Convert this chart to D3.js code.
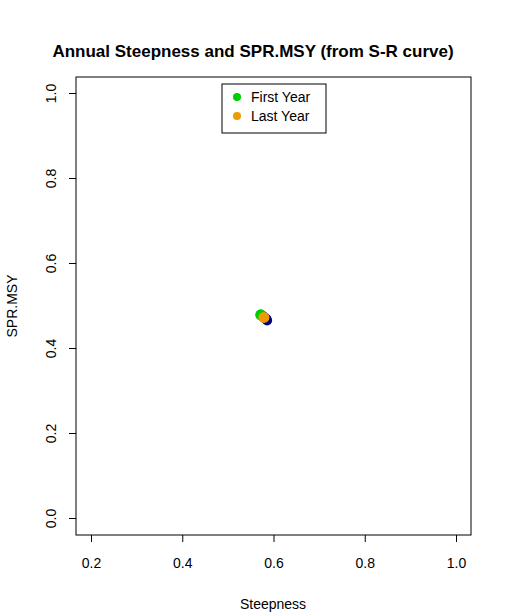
<!DOCTYPE html>
<html><head><meta charset="utf-8">
<script src="https://cdn.jsdelivr.net/npm/d3@7"></script>
<style>body{margin:0;background:#fff}text{font-family:"Liberation Sans",Arial,sans-serif}</style>
</head><body><svg id="c" width="510" height="612"></svg>
<script>
const steep = [0.572, 0.575, 0.578, 0.581, 0.584, 0.586, 0.584, 0.579];
const sprmsy = [0.478, 0.476, 0.474, 0.471, 0.468, 0.465, 0.468, 0.472];
const xTicks = [0.2, 0.4, 0.6, 0.8, 1.0];
const yTicks = [0.0, 0.2, 0.4, 0.6, 0.8, 1.0];
const legendLabels = ['First Year', 'Last Year'];
const legendColors = ['#00cd00', '#ee9a00'];

const svg = d3.select('#c');
const x = d3.scaleLinear().domain([0.2, 1.0]).range([91, 456]);
const y = d3.scaleLinear().domain([0, 1]).range([518, 93]);

svg.append('rect').attr('x', 76).attr('y', 77).attr('width', 395).attr('height', 458)
  .attr('fill', 'none').attr('stroke', '#000');

const xa = svg.append('g').attr('transform', 'translate(0,535)')
  .call(d3.axisBottom(x).tickValues(xTicks).tickSize(7).tickPadding(16).tickFormat(d3.format('.1f')));
const ya = svg.append('g').attr('transform', 'translate(76,0)')
  .call(d3.axisLeft(y).tickValues(yTicks).tickSize(7).tickFormat(d3.format('.1f')));
[xa, ya].forEach(a => { a.select('.domain').remove(); a.selectAll('text').attr('font-size', 14).attr('fill', '#000'); });
ya.selectAll('.tick text').attr('text-anchor', 'middle').attr('x', 0).attr('dy', 0)
  .attr('transform', 'translate(-20,0) rotate(-90)');

svg.append('text').attr('x', 253).attr('y', 57).attr('text-anchor', 'middle')
  .attr('font-size', 17).attr('font-weight', 'bold').text('Annual Steepness and SPR.MSY (from S-R curve)');
svg.append('text').attr('x', 273).attr('y', 609).attr('text-anchor', 'middle').attr('font-size', 14).text('Steepness');
svg.append('text').attr('transform', 'translate(17,306) rotate(-90)').attr('text-anchor', 'middle').attr('font-size', 14).text('SPR.MSY');

svg.selectAll('.p').data(steep).enter().append('circle')
  .attr('cx', d => x(d)).attr('cy', (d, i) => y(sprmsy[i])).attr('r', 5).attr('fill', '#00008b');
const n = steep.length;
[[0, legendColors[0]], [n - 1, legendColors[1]]].forEach(([i, c]) =>
  svg.append('circle').attr('cx', x(steep[i])).attr('cy', y(sprmsy[i])).attr('r', 5.5).attr('fill', c));

const lg = svg.append('g');
lg.append('rect').attr('x', 222).attr('y', 84).attr('width', 104).attr('height', 49).attr('fill', '#fff').attr('stroke', '#000');
legendLabels.forEach((l, i) => {
  lg.append('circle').attr('cx', 237).attr('cy', 97 + i * 19).attr('r', 4).attr('fill', legendColors[i]);
  lg.append('text').attr('x', 251).attr('y', 102 + i * 19).attr('font-size', 14).text(l);
});
</script></body></html>
